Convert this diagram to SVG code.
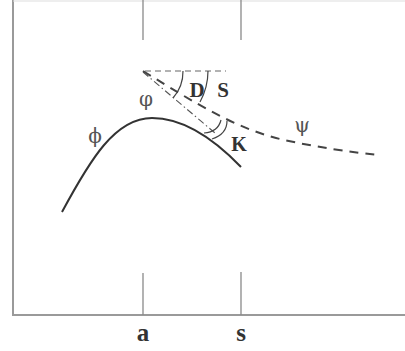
<svg xmlns="http://www.w3.org/2000/svg" width="405" height="351" viewBox="0 0 405 351">
<style>
.frame{stroke:#9a9a9a;stroke-width:2;fill:none}
.tick{stroke:#8a8a8a;stroke-width:1.3;fill:none}
.curve{stroke:#333;stroke-width:2;fill:none}
.dash{stroke:#444;stroke-width:2;fill:none;stroke-dasharray:9,7}
.hdash{stroke:#666;stroke-width:1.2;fill:none;stroke-dasharray:6,4}
.dd{stroke:#555;stroke-width:1.1;fill:none;stroke-dasharray:7,3,1.5,3}
.arc{stroke:#444;stroke-width:1.2;fill:none}
.lb{font-family:"Liberation Serif",serif;font-weight:bold;fill:#333;text-anchor:middle}
.gr{font-family:"DejaVu Serif","Liberation Serif",serif;fill:#555555;font-size:20px;text-anchor:middle}
</style>
<g id="axes">
<path class="frame" d="M13,0 V315 H405"/>
<path d="M13,1 H405" stroke="#ddd" stroke-width="1"/>
<path class="tick" d="M143,0 V40 M241,0 V40 M143,273 V315 M241,272 V315"/>
<text class="lb" x="143" y="341" font-size="25">a</text>
<text class="lb" x="241" y="341" font-size="25">s</text>
</g>
<g id="phi-curve">
<path class="curve" d="M62,212 C90,160 115,118 152,118 C185,118 215,140 241,167"/>
<text class="gr" x="95" y="143">ϕ</text>
<text class="gr" x="146" y="106">φ</text>
</g>
<g id="connectors">
<path class="hdash" d="M145,71 H226"/>
<path class="dd" d="M143,72 L215,133"/>
<path class="dash" d="M143,71 C195,103 235,128 280,139 C315,147 350,152 378,155"/>
<path class="arc" d="M183,71 A40,40 0 0 1 173,98"/>
<path class="arc" d="M208,71 A65,65 0 0 1 200,102"/>
<path class="arc" d="M204,133 Q218,132 221,120"/>
<path class="arc" d="M212,139 Q227,134 227,121"/>
</g>
<g id="labels">
<text class="lb" x="197" y="97" font-size="21">D</text>
<text class="lb" x="223" y="97" font-size="21">S</text>
<text class="lb" x="239" y="151" font-size="20">K</text>
<text class="gr" x="302" y="132">ψ</text>
</g>
</svg>
